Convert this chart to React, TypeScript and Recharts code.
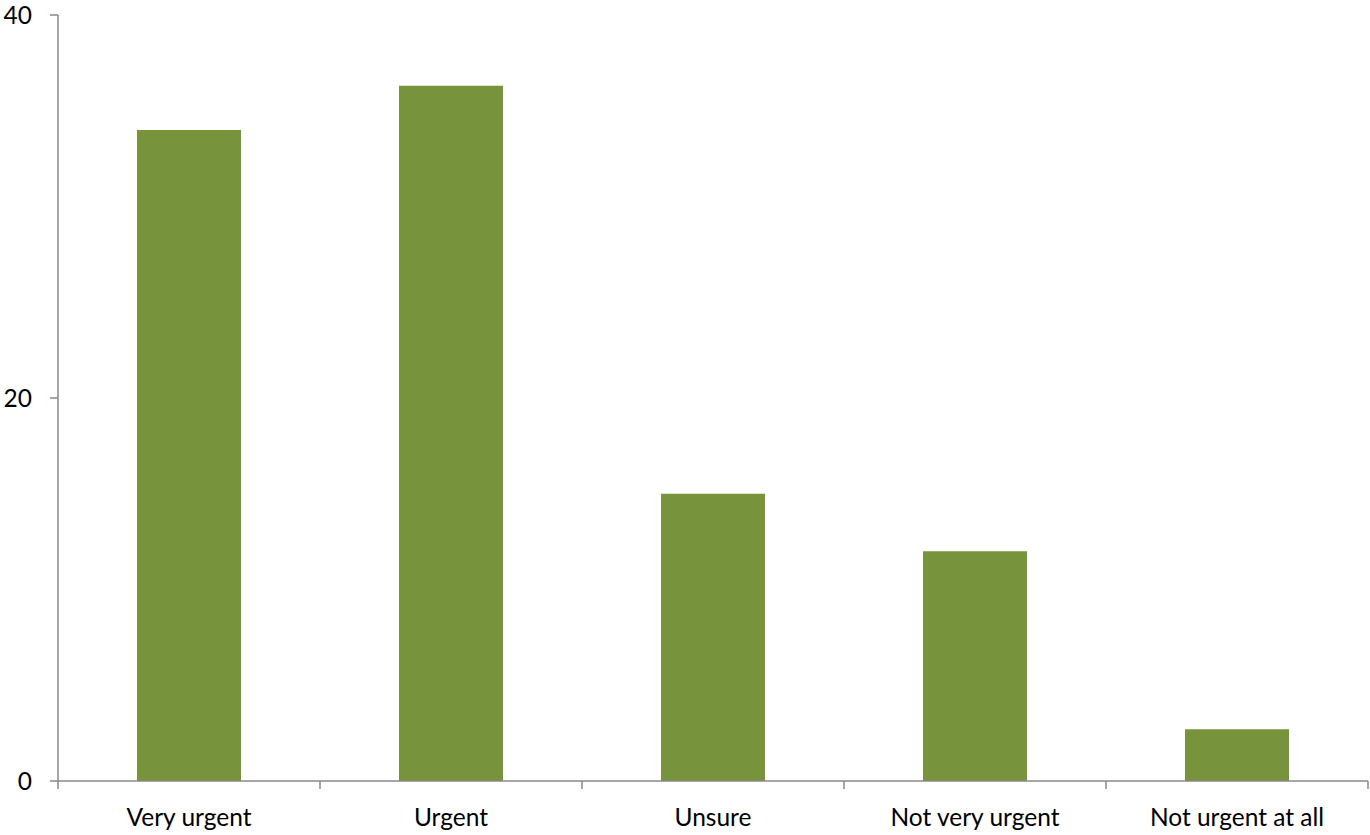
import React from "react";
import { BarChart, Bar, XAxis, YAxis } from "recharts";

const categories = ["Very urgent", "Urgent", "Unsure", "Not very urgent", "Not urgent at all"];
const values = [34, 36.3, 15, 12, 2.7];
const yTicks = [0, 20, 40];

const data = categories.map((name, i) => ({ name, value: values[i] }));

const AXIS = "#898989";
const BAR = "#77933C";
const FONT = "Lato, 'Open Sans', sans-serif";
const BAND = (1368 - 58) / categories.length;

function XTick(props: any) {
  const { x, y, payload, index, visibleTicksCount } = props;
  const top = y - 12 - 8;
  const bottom = y - 12;
  const left = x - BAND / 2;
  const isLast = index === visibleTicksCount - 1;
  return (
    <g>
      <line x1={left} x2={left} y1={top} y2={bottom} stroke={AXIS} strokeWidth={1.5} />
      {isLast && (
        <line x1={x + BAND / 2} x2={x + BAND / 2} y1={top} y2={bottom} stroke={AXIS} strokeWidth={1.5} />
      )}
      <text x={x} y={y} dy="1em" textAnchor="middle" fill="#000" fontSize={24.5} fontFamily={FONT}>
        {payload.value}
      </text>
    </g>
  );
}

export default function App() {
  return (
    <div style={{ position: "absolute", left: 0, top: 0, width: 1370, height: 835, background: "#fff" }}>
      <BarChart
        width={1370}
        height={835}
        data={data}
        margin={{ top: 15, right: 2, bottom: 0, left: 0 }}
      >
        <XAxis
          dataKey="name"
          height={54}
          axisLine={{ stroke: AXIS, strokeWidth: 1.5 }}
          tickLine={false}
          tickSize={8}
          tickMargin={12}
          interval={0}
          tick={<XTick />}
        />
        <YAxis
          width={58}
          domain={[0, 40]}
          ticks={yTicks}
          interval={0}
          axisLine={{ stroke: AXIS, strokeWidth: 1.5 }}
          tickLine={{ stroke: AXIS, strokeWidth: 1.5 }}
          tickSize={8}
          tickMargin={18}
          tick={{ fill: "#000", fontSize: 24.5, fontFamily: FONT }}
        />
        <Bar dataKey="value" fill={BAR} barSize={104} isAnimationActive={false} />
      </BarChart>
    </div>
  );
}
